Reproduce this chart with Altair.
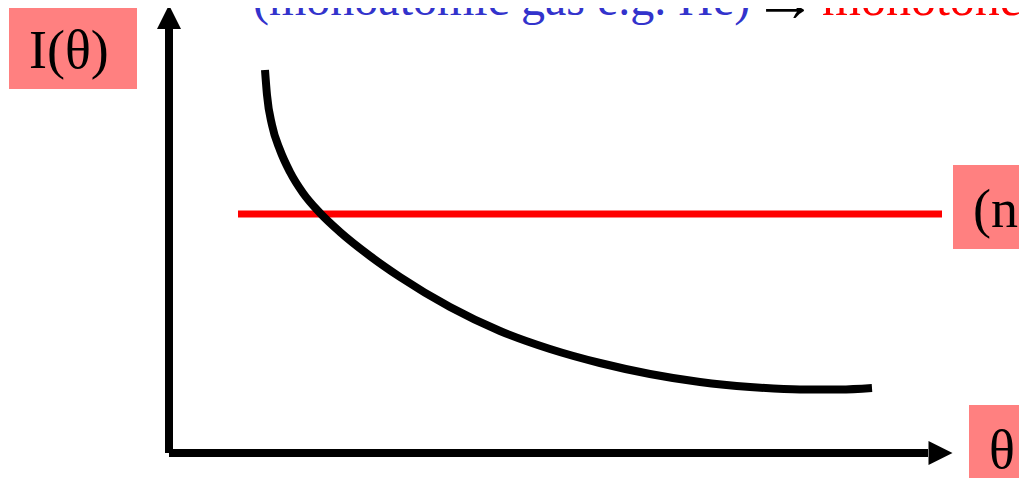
import altair as alt
import pandas as pd

# Data (theta / intensity in arbitrary schematic units)
curve_theta = [96, 98, 103, 111, 121, 134, 151, 171, 201, 231, 281, 331, 381, 431, 481, 531, 581, 631, 671, 703]
curve_I = [383, 358, 328, 303, 281, 260, 240, 221, 197, 176, 146, 122, 104, 90, 79, 71, 66, 63.5, 63.5, 65]

flat_theta = [69, 773]
flat_I = [239, 239]

axis_x0 = [0, 0]
axis_x1 = [759, 0]
axis_y0 = [0, 0]
axis_y1 = [0, 424]

arrow_theta = [0, 771.5]
arrow_I = [436, 0]

box_x0 = [-160, 784, 800]
box_x1 = [-32, 858, 858]
box_y0 = [364, 204, -33]
box_y1 = [448, 288, 48]

label_text = ["I(θ)", "(n)", "θ"]
label_theta = [-140, 804, 820]
label_I = [385, 226, -15]

top_blue = "(monoatomic gas e.g. He)"
top_red = "monotonedecreasing"

W, H = 1011, 470
xs = alt.Scale(domain=[-161, 850], nice=False, zero=False)
ys = alt.Scale(domain=[-25, 445], nice=False, zero=False)

def X(f):
    return alt.X(f, type="quantitative", scale=xs, axis=None)

def Y(f):
    return alt.Y(f, type="quantitative", scale=ys, axis=None)

boxes = pd.DataFrame({"x0": box_x0, "x1": box_x1, "y0": box_y0, "y1": box_y1})
box_layer = alt.Chart(boxes).mark_rect(color="#FF8080").encode(
    x=X("x0"), x2="x1", y=Y("y0"), y2="y1"
)

labels = pd.DataFrame({"t": label_text, "x": label_theta, "y": label_I})
label_layer = alt.Chart(labels).mark_text(
    font="Liberation Serif", fontSize=54, align="left", baseline="alphabetic", color="black"
).encode(x=X("x"), y=Y("y"), text="t:N")

axes = pd.DataFrame({"x0": axis_x0, "x1": axis_x1, "y0": axis_y0, "y1": axis_y1})
axis_layer = alt.Chart(axes).mark_rule(color="black", strokeWidth=8).encode(
    x=X("x0"), x2="x1", y=Y("y0"), y2="y1"
)

heads = pd.DataFrame({"x": arrow_theta, "y": arrow_I})
head_up = alt.Chart(heads.iloc[[0]]).mark_point(
    shape="M0,-1L1,1L-1,1Z", filled=True, color="black", opacity=1, size=576, strokeWidth=0
).encode(x=X("x"), y=Y("y"))
head_right = alt.Chart(heads.iloc[[1]]).mark_point(
    shape="M1,0L-1,-1L-1,1Z", filled=True, color="black", opacity=1, size=576, strokeWidth=0
).encode(x=X("x"), y=Y("y"))

flat = pd.DataFrame({"x": flat_theta, "y": flat_I})
flat_layer = alt.Chart(flat).mark_line(color="#FF0000", strokeWidth=7).encode(
    x=X("x"), y=Y("y")
)

curve = pd.DataFrame({"x": curve_theta, "y": curve_I, "o": list(range(len(curve_I)))})
curve_layer = alt.Chart(curve).mark_line(
    color="black", strokeWidth=8, interpolate="monotone"
).encode(x=X("x"), y=Y("y"), order="o:Q")

top = pd.DataFrame({"x": [84], "y": [438], "t": [top_blue]})
top_blue_layer = alt.Chart(top).mark_text(
    font="Liberation Serif", fontSize=48, align="left", baseline="alphabetic", color="#3333CC"
).encode(x=X("x"), y=Y("y"), text="t:N")

arr = pd.DataFrame({"x": [616], "y": [451], "t": ["→"]})
arrow_layer = alt.Chart(arr).mark_text(
    font="Liberation Serif", fontSize=64, align="center", baseline="middle", color="black"
).encode(x=X("x"), y=Y("y"), text="t:N")

topr = pd.DataFrame({"x": [653], "y": [438], "t": [top_red]})
top_red_layer = alt.Chart(topr).mark_text(
    font="Liberation Serif", fontSize=50, align="left", baseline="alphabetic", color="#FF0000"
).encode(x=X("x"), y=Y("y"), text="t:N")

chart = alt.layer(
    box_layer, label_layer, axis_layer, head_up, head_right,
    flat_layer, curve_layer, top_blue_layer, arrow_layer, top_red_layer
).properties(
    width=W, height=H, padding=0, autosize=alt.AutoSizeParams(type="none"),
    background="white"
).configure_view(stroke=None)

chart.save("out.html", embed_options={"renderer": "svg", "actions": False})
